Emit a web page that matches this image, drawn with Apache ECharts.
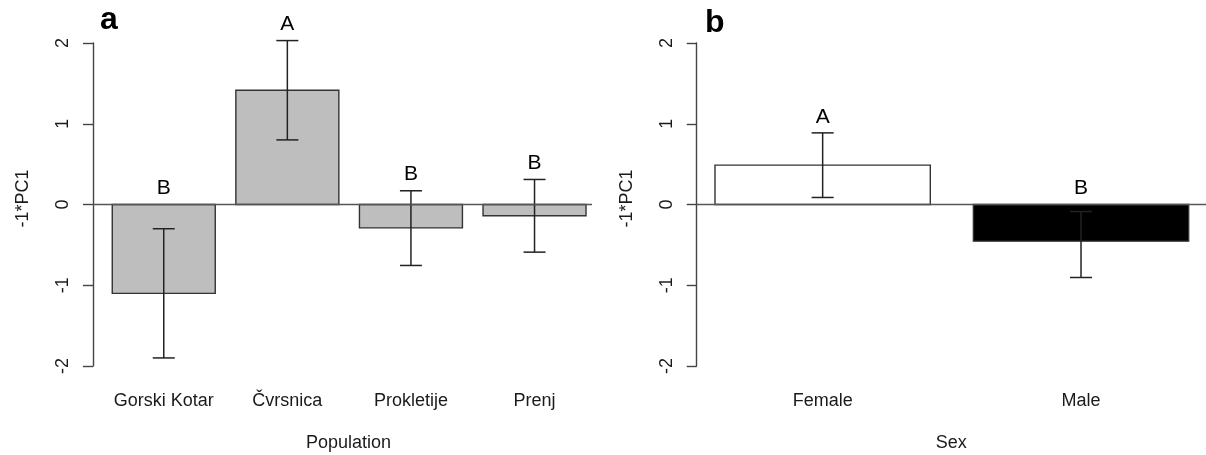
<!DOCTYPE html>
<html>
<head>
<meta charset="utf-8">
<script src="https://cdn.jsdelivr.net/npm/echarts@6/dist/echarts.min.js"></script>
<style>
  html, body { margin: 0; padding: 0; background: #fff; }
  #chart { width: 1206px; height: 455px; }
</style>
</head>
<body>
<div id="chart"></div>
<script>
// Panel a: mean of -1*PC1 per population, with interval bounds and group letters
const populations = ['Gorski Kotar', 'Čvrsnica', 'Prokletije', 'Prenj'];
const popMean  = [-1.10, 1.415, -0.29, -0.14];
const popLower = [-1.90, 0.80, -0.755, -0.59];
const popUpper = [-0.30, 2.03, 0.17, 0.31];
const popGroups = ['B', 'A', 'B', 'B'];

// Panel b: mean of -1*PC1 per sex
const sexes = ['Female', 'Male'];
const sexMean  = [0.487, -0.454];
const sexLower = [0.087, -0.904];
const sexUpper = [0.887, -0.087];
const sexGroups = ['A', 'B'];

const yTicks = [-2, -1, 0, 1, 2];

const FONT = '"Liberation Sans", Arial, Helvetica, sans-serif';

// barplot layout: unit-wide bars separated by 0.2 gaps, first bar starting at 0.2
const barCenter = i => 0.7 + 1.2 * i;

function rows(means, lower, upper) {
  return means.map((m, i) => [barCenter(i), m, lower[i], upper[i], i]);
}

function barRenderer(fills, letters) {
  return function (params, api) {
    const c = api.value(0), m = api.value(1), lo = api.value(2), hi = api.value(3);
    const i = api.value(4);
    const p0 = api.coord([c - 0.5, 0]);
    const p1 = api.coord([c + 0.5, m]);
    const top = api.coord([c, hi]);
    const bot = api.coord([c, lo]);
    const lab = api.coord([c, Math.max(0, hi) + 0.2]);
    const cap = 11;
    const err = { stroke: '#222', lineWidth: 1.5 };
    return {
      type: 'group',
      children: [
        { type: 'rect',
          shape: { x: p0[0], y: Math.min(p0[1], p1[1]), width: p1[0] - p0[0], height: Math.abs(p1[1] - p0[1]) },
          style: { fill: fills[i], stroke: '#333', lineWidth: 1.4 } },
        { type: 'line', shape: { x1: top[0], y1: top[1], x2: bot[0], y2: bot[1] }, style: err },
        { type: 'line', shape: { x1: top[0] - cap, y1: top[1], x2: top[0] + cap, y2: top[1] }, style: err },
        { type: 'line', shape: { x1: bot[0] - cap, y1: bot[1], x2: bot[0] + cap, y2: bot[1] }, style: err },
        { type: 'text', x: lab[0], y: lab[1],
          style: { text: letters[i], fill: '#000', font: '21px ' + FONT, align: 'center', verticalAlign: 'middle' } }
      ]
    };
  };
}

const zeroLine = {
  silent: true, symbol: 'none', label: { show: false },
  lineStyle: { color: '#555', width: 1.4, type: 'solid' },
  data: [{ yAxis: 0 }]
};

function yAxisFor(gridIndex) {
  return {
    gridIndex, type: 'value', min: -2, max: 2, interval: 1,
    axisLine: { show: true, lineStyle: { color: '#444', width: 1.4 } },
    axisTick: { show: true, inside: false, length: 10, lineStyle: { color: '#444', width: 1.4 }, customValues: yTicks },
    splitLine: { show: false },
    axisLabel: { rotate: 90, margin: 21, fontSize: 18, color: '#1a1a1a', fontFamily: FONT, customValues: yTicks },
    name: '-1*PC1', nameLocation: 'middle', nameRotate: 90, nameGap: 61,
    nameTextStyle: { fontSize: 18, color: '#1a1a1a', fontFamily: FONT, padding: [0, 0, 0, 12] }
  };
}

function xAxisFor(gridIndex, names, min, max, title, pad) {
  return {
    gridIndex, type: 'value', min, max,
    axisLine: { show: false }, axisTick: { show: false }, splitLine: { show: false },
    axisLabel: {
      customValues: names.map((_, i) => barCenter(i)),
      formatter: v => names[Math.round((v - 0.7) / 1.2)],
      margin: 26, fontSize: 18, color: '#1a1a1a', fontFamily: FONT
    },
    name: title, nameLocation: 'middle', nameGap: 68,
    nameTextStyle: { fontSize: 18, color: '#1a1a1a', fontFamily: FONT, padding: [0, 0, 0, pad] }
  };
}

const chart = echarts.init(document.getElementById('chart'), null, { renderer: 'canvas' });
chart.setOption({
  animation: false,
  backgroundColor: '#fff',
  grid: [
    { left: 93, top: 43, width: 499, height: 323, outerBoundsMode: 'none', containLabel: false },
    { left: 696.7, top: 43, width: 509.3, height: 323, outerBoundsMode: 'none', containLabel: false }
  ],
  xAxis: [
    xAxisFor(0, populations, 0.013, 4.858, 'Population', 12),
    xAxisFor(1, sexes, 0.115, 2.4805, 'Sex', 0)
  ],
  yAxis: [yAxisFor(0), yAxisFor(1)],
  graphic: [
    { type: 'text', left: 100, top: 4, style: { text: 'a', font: 'bold 32px ' + FONT, fill: '#000' } },
    { type: 'text', left: 705, top: 7, style: { text: 'b', font: 'bold 32px ' + FONT, fill: '#000' } }
  ],
  series: [
    { type: 'custom', xAxisIndex: 0, yAxisIndex: 0, clip: false,
      renderItem: barRenderer(populations.map(() => '#bebebe'), popGroups),
      data: rows(popMean, popLower, popUpper), markLine: zeroLine },
    { type: 'custom', xAxisIndex: 1, yAxisIndex: 1, clip: false,
      renderItem: barRenderer(['#ffffff', '#000000'], sexGroups),
      data: rows(sexMean, sexLower, sexUpper), markLine: zeroLine }
  ]
});
</script>
</body>
</html>
